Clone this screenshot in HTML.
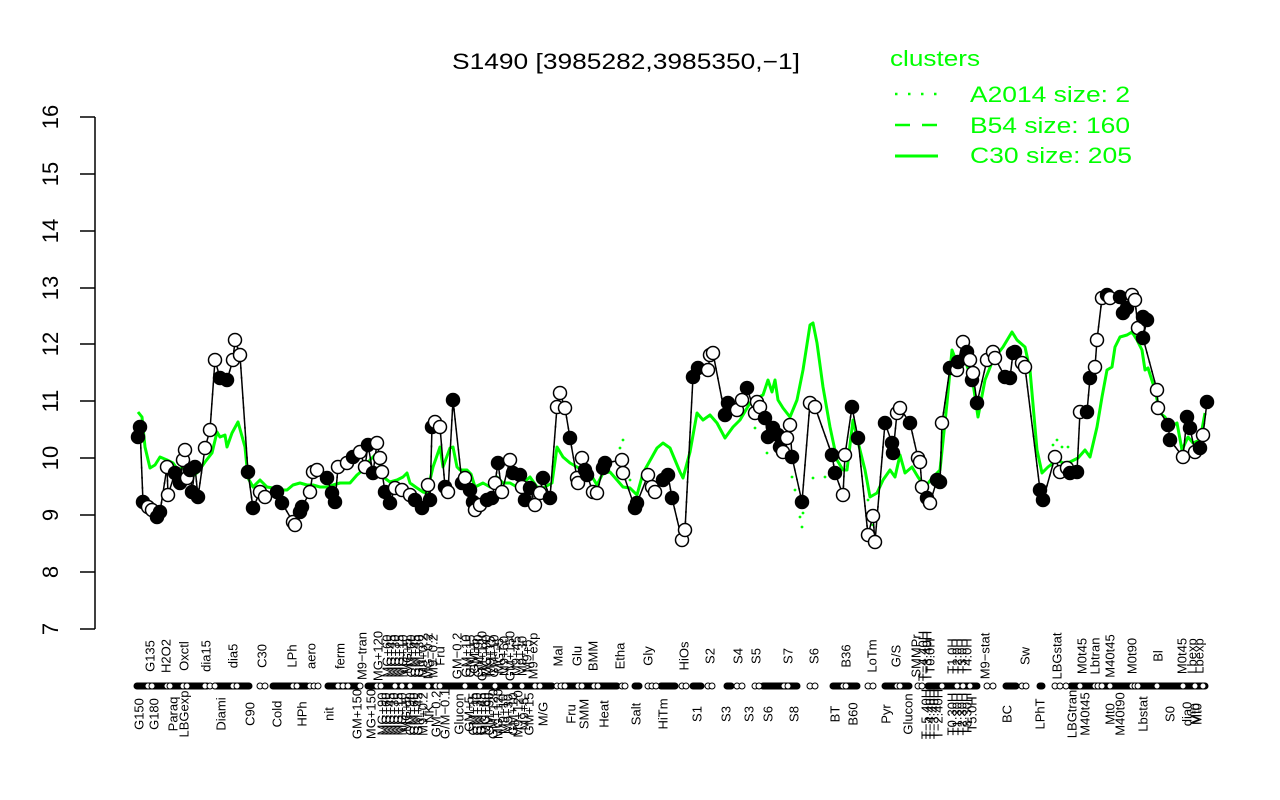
<!DOCTYPE html>
<html><head><meta charset="utf-8"><style>
html,body{margin:0;padding:0;background:#fff;}
svg{display:block;}
text{font-family:"Liberation Sans",Arial,sans-serif;}
</style></head><body>
<svg width="1280" height="800" viewBox="0 0 1280 800" xmlns="http://www.w3.org/2000/svg">
<rect width="1280" height="800" fill="#fff"/>
<text x="452" y="69" font-size="22" textLength="348" lengthAdjust="spacingAndGlyphs" fill="#000">S1490 [3985282,3985350,−1]</text>
<text x="890" y="66" font-size="22" textLength="90" lengthAdjust="spacingAndGlyphs" fill="#00ff00">clusters</text>
<line x1="895" y1="94" x2="940" y2="94" stroke="#00ff00" stroke-width="2.5" stroke-dasharray="2.5 10.5"/>
<text x="970" y="102" font-size="22" textLength="160" lengthAdjust="spacingAndGlyphs" fill="#00ff00">A2014 size: 2</text>
<line x1="895" y1="125" x2="938" y2="125" stroke="#00ff00" stroke-width="2.5" stroke-dasharray="15 12"/>
<text x="970" y="133" font-size="22" textLength="160" lengthAdjust="spacingAndGlyphs" fill="#00ff00">B54 size: 160</text>
<line x1="895" y1="156" x2="938" y2="156" stroke="#00ff00" stroke-width="3"/>
<text x="970" y="163" font-size="22" textLength="162" lengthAdjust="spacingAndGlyphs" fill="#00ff00">C30 size: 205</text>
<g stroke="#000" stroke-width="1.5" fill="none">
<line x1="95" y1="117" x2="95" y2="629"/>
<line x1="80" y1="117" x2="95" y2="117"/><line x1="80" y1="174" x2="95" y2="174"/><line x1="80" y1="231" x2="95" y2="231"/><line x1="80" y1="288" x2="95" y2="288"/><line x1="80" y1="344" x2="95" y2="344"/><line x1="80" y1="401" x2="95" y2="401"/><line x1="80" y1="458" x2="95" y2="458"/><line x1="80" y1="515" x2="95" y2="515"/><line x1="80" y1="572" x2="95" y2="572"/><line x1="80" y1="629" x2="95" y2="629"/>
</g>
<g font-size="22" fill="#000" text-anchor="middle">
<text transform="translate(58,117) rotate(-90)">16</text>
<text transform="translate(58,174) rotate(-90)">15</text>
<text transform="translate(58,231) rotate(-90)">14</text>
<text transform="translate(58,288) rotate(-90)">13</text>
<text transform="translate(58,344) rotate(-90)">12</text>
<text transform="translate(58,401) rotate(-90)">11</text>
<text transform="translate(58,458) rotate(-90)">10</text>
<text transform="translate(58,515) rotate(-90)">9</text>
<text transform="translate(58,572) rotate(-90)">8</text>
<text transform="translate(58,629) rotate(-90)">7</text>
</g>
<!-- A2014 dotted fragments -->
<g fill="#00ff00">
<circle cx="620" cy="448" r="1.4"/><circle cx="623" cy="440" r="1.4"/><circle cx="630" cy="480" r="1.4"/><circle cx="755" cy="428" r="1.4"/><circle cx="767" cy="453" r="1.4"/><circle cx="792" cy="477" r="1.4"/><circle cx="795" cy="490" r="1.4"/><circle cx="800" cy="517" r="1.4"/><circle cx="803" cy="513" r="1.4"/><circle cx="802" cy="527" r="1.4"/><circle cx="813" cy="478" r="1.4"/><circle cx="825" cy="477" r="1.4"/><circle cx="868" cy="500" r="1.4"/><circle cx="870" cy="515" r="1.4"/><circle cx="873" cy="525" r="1.4"/><circle cx="1053" cy="445" r="1.4"/><circle cx="1057" cy="440" r="1.4"/><circle cx="1062" cy="447" r="1.4"/><circle cx="1068" cy="447" r="1.4"/>
</g>
<!-- C30 solid -->
<polyline fill="none" stroke="#00ff00" stroke-width="3" stroke-linejoin="round" points="138,412 142,417 145,447 150,468 155,465 160,457 167,460 173,463 178,470 183,467 187,475 192,477 198,472 205,462 212,453 217,432 220,437 225,435 227,447 232,433 238,422 245,447 248,478 253,487 260,480 267,487 273,488 280,490 287,490 293,485 300,483 307,485 313,485 320,487 327,487 333,485 340,483 350,483 357,475 363,470 370,460 377,453 383,477 390,482 397,480 403,477 407,473 410,483 417,488 423,492 427,493 433,467 440,447 443,467 450,448 453,447 457,467 460,470 467,470 471,474 475,487 483,483 490,487 497,477 503,483 510,483 517,487 523,483 530,477 537,487 543,488 552,483 557,447 563,457 570,463 577,467 583,470 590,473 597,485 603,473 610,472 617,480 623,487 630,488 637,495 643,473 652,457 657,448 663,443 670,448 680,472 683,478 690,452 697,413 703,420 710,415 717,423 725,438 733,427 740,420 750,403 757,398 763,395 768,380 772,392 775,380 778,400 783,408 790,417 797,400 803,370 810,325 813,323 817,343 823,387 830,427 837,460 843,470 847,470 853,420 860,450 865,470 870,497 877,493 883,480 890,470 895,477 900,455 905,473 912,467 918,477 925,487 933,477 940,470 947,403 952,350 957,363 965,360 973,383 978,417 985,380 993,360 1003,347 1012,332 1017,340 1025,347 1030,370 1037,450 1042,473 1048,467 1057,460 1063,463 1070,462 1078,458 1085,450 1090,457 1097,427 1102,397 1107,370 1112,367 1115,347 1120,337 1127,335 1132,332 1137,340 1142,350 1145,370 1148,368 1155,390 1160,413 1165,417 1170,427 1177,423 1182,450 1188,437 1193,443 1200,440 1205,413"/>
<!-- gene line -->
<polyline id="gl" fill="none" stroke="#000" stroke-width="1.5" points="138,437 140,427 143,502 148,507 152,510 157,517 160,512 167,467 168,495 175,473 180,483 183,460 185,450 187,478 190,470 192,492 195,467 198,497 205,448 210,430 215,360 220,378 227,380 233,360 235,340 240,355 248,472 253,508 260,492 265,497 277,492 282,503 293,522 295,525 300,512 302,507 310,492 313,472 317,470 327,478 332,493 335,502 338,467 347,463 353,457 353,458 360,452 365,467 368,445 373,473 377,443 380,458 382,472 385,492 390,503 395,488 402,490 410,495 415,500 422,508 428,485 430,500 432,427 435,422 440,427 445,487 448,492 453,400 462,483 465,478 470,490 473,502 475,510 480,505 487,500 492,498 495,483 498,463 502,492 510,460 513,473 520,475 522,487 525,500 530,488 535,505 540,493 543,478 550,498 557,407 560,393 565,408 570,438 577,478 578,483 582,458 585,470 587,475 593,492 597,493 603,468 605,463 622,460 623,473 635,508 637,503 648,475 652,487 655,492 663,480 668,475 672,498 682,540 685,530 693,377 698,368 708,370 710,355 713,353 725,415 728,403 737,410 742,400 747,388 755,413 757,402 760,407 765,418 768,437 773,428 778,435 780,447 783,452 787,438 790,425 792,457 802,502 810,403 815,407 832,455 835,473 843,495 845,455 852,407 858,438 868,535 873,516 875,542 885,423 892,443 893,453 897,413 900,408 910,423 918,458 920,462 922,487 927,498 930,503 937,480 940,482 942,423 950,368 957,370 958,362 963,342 967,352 970,360 972,380 973,373 977,403 987,360 993,352 995,358 1005,377 1010,378 1013,353 1015,352 1022,363 1025,367 1040,490 1043,500 1055,457 1060,472 1067,468 1070,473 1077,472 1080,412 1087,412 1090,378 1095,367 1097,340 1102,298 1107,295 1110,298 1120,297 1123,313 1127,308 1132,295 1135,300 1138,328 1143,317 1147,320 1143,338 1157,390 1158,408 1168,425 1170,440 1183,457 1187,417 1190,428 1195,452 1200,448 1203,435 1207,402"/>
<use href="#gl" stroke="#00ff00" stroke-width="2.5" stroke-dasharray="2 8"/>
<!-- markers -->
<g stroke="#000" stroke-width="1.5">
<circle cx="138" cy="437" r="6.5" fill="#000"/><circle cx="140" cy="427" r="6.5" fill="#000"/><circle cx="143" cy="502" r="6.5" fill="#000"/><circle cx="148" cy="507" r="6.5" fill="#fff"/><circle cx="152" cy="510" r="6.5" fill="#fff"/><circle cx="157" cy="517" r="6.5" fill="#000"/><circle cx="160" cy="512" r="6.5" fill="#000"/><circle cx="167" cy="467" r="6.5" fill="#fff"/><circle cx="168" cy="495" r="6.5" fill="#fff"/><circle cx="175" cy="473" r="6.5" fill="#000"/><circle cx="180" cy="483" r="6.5" fill="#000"/><circle cx="183" cy="460" r="6.5" fill="#fff"/><circle cx="185" cy="450" r="6.5" fill="#fff"/><circle cx="187" cy="478" r="6.5" fill="#fff"/><circle cx="190" cy="470" r="6.5" fill="#000"/><circle cx="192" cy="492" r="6.5" fill="#000"/><circle cx="195" cy="467" r="6.5" fill="#000"/><circle cx="198" cy="497" r="6.5" fill="#000"/><circle cx="205" cy="448" r="6.5" fill="#fff"/><circle cx="210" cy="430" r="6.5" fill="#fff"/><circle cx="215" cy="360" r="6.5" fill="#fff"/><circle cx="220" cy="378" r="6.5" fill="#000"/><circle cx="227" cy="380" r="6.5" fill="#000"/><circle cx="233" cy="360" r="6.5" fill="#fff"/><circle cx="235" cy="340" r="6.5" fill="#fff"/><circle cx="240" cy="355" r="6.5" fill="#fff"/><circle cx="248" cy="472" r="6.5" fill="#000"/><circle cx="253" cy="508" r="6.5" fill="#000"/><circle cx="260" cy="492" r="6.5" fill="#fff"/><circle cx="265" cy="497" r="6.5" fill="#fff"/><circle cx="277" cy="492" r="6.5" fill="#000"/><circle cx="282" cy="503" r="6.5" fill="#000"/><circle cx="293" cy="522" r="6.5" fill="#fff"/><circle cx="295" cy="525" r="6.5" fill="#fff"/><circle cx="300" cy="512" r="6.5" fill="#000"/><circle cx="302" cy="507" r="6.5" fill="#000"/><circle cx="310" cy="492" r="6.5" fill="#fff"/><circle cx="313" cy="472" r="6.5" fill="#fff"/><circle cx="317" cy="470" r="6.5" fill="#fff"/><circle cx="327" cy="478" r="6.5" fill="#000"/><circle cx="332" cy="493" r="6.5" fill="#000"/><circle cx="335" cy="502" r="6.5" fill="#000"/><circle cx="338" cy="467" r="6.5" fill="#fff"/><circle cx="347" cy="463" r="6.5" fill="#fff"/><circle cx="353" cy="457" r="6.5" fill="#000"/><circle cx="360" cy="452" r="6.5" fill="#fff"/><circle cx="365" cy="467" r="6.5" fill="#fff"/><circle cx="368" cy="445" r="6.5" fill="#000"/><circle cx="373" cy="473" r="6.5" fill="#000"/><circle cx="377" cy="443" r="6.5" fill="#fff"/><circle cx="380" cy="458" r="6.5" fill="#fff"/><circle cx="382" cy="472" r="6.5" fill="#fff"/><circle cx="385" cy="492" r="6.5" fill="#000"/><circle cx="390" cy="503" r="6.5" fill="#000"/><circle cx="395" cy="488" r="6.5" fill="#fff"/><circle cx="402" cy="490" r="6.5" fill="#fff"/><circle cx="410" cy="495" r="6.5" fill="#fff"/><circle cx="415" cy="500" r="6.5" fill="#000"/><circle cx="422" cy="508" r="6.5" fill="#000"/><circle cx="428" cy="485" r="6.5" fill="#fff"/><circle cx="430" cy="500" r="6.5" fill="#000"/><circle cx="432" cy="427" r="6.5" fill="#000"/><circle cx="435" cy="422" r="6.5" fill="#fff"/><circle cx="440" cy="427" r="6.5" fill="#fff"/><circle cx="445" cy="487" r="6.5" fill="#000"/><circle cx="448" cy="492" r="6.5" fill="#fff"/><circle cx="453" cy="400" r="6.5" fill="#000"/><circle cx="462" cy="483" r="6.5" fill="#000"/><circle cx="465" cy="478" r="6.5" fill="#fff"/><circle cx="470" cy="490" r="6.5" fill="#000"/><circle cx="473" cy="502" r="6.5" fill="#000"/><circle cx="475" cy="510" r="6.5" fill="#fff"/><circle cx="480" cy="505" r="6.5" fill="#fff"/><circle cx="487" cy="500" r="6.5" fill="#000"/><circle cx="492" cy="498" r="6.5" fill="#000"/><circle cx="495" cy="483" r="6.5" fill="#fff"/><circle cx="498" cy="463" r="6.5" fill="#000"/><circle cx="502" cy="492" r="6.5" fill="#fff"/><circle cx="510" cy="460" r="6.5" fill="#fff"/><circle cx="513" cy="473" r="6.5" fill="#000"/><circle cx="520" cy="475" r="6.5" fill="#000"/><circle cx="522" cy="487" r="6.5" fill="#fff"/><circle cx="525" cy="500" r="6.5" fill="#000"/><circle cx="530" cy="488" r="6.5" fill="#000"/><circle cx="535" cy="505" r="6.5" fill="#fff"/><circle cx="540" cy="493" r="6.5" fill="#fff"/><circle cx="543" cy="478" r="6.5" fill="#000"/><circle cx="550" cy="498" r="6.5" fill="#000"/><circle cx="557" cy="407" r="6.5" fill="#fff"/><circle cx="560" cy="393" r="6.5" fill="#fff"/><circle cx="565" cy="408" r="6.5" fill="#fff"/><circle cx="570" cy="438" r="6.5" fill="#000"/><circle cx="577" cy="478" r="6.5" fill="#fff"/><circle cx="578" cy="483" r="6.5" fill="#fff"/><circle cx="582" cy="458" r="6.5" fill="#fff"/><circle cx="585" cy="470" r="6.5" fill="#000"/><circle cx="587" cy="475" r="6.5" fill="#000"/><circle cx="593" cy="492" r="6.5" fill="#fff"/><circle cx="597" cy="493" r="6.5" fill="#fff"/><circle cx="603" cy="468" r="6.5" fill="#000"/><circle cx="605" cy="463" r="6.5" fill="#000"/><circle cx="622" cy="460" r="6.5" fill="#fff"/><circle cx="623" cy="473" r="6.5" fill="#fff"/><circle cx="635" cy="508" r="6.5" fill="#000"/><circle cx="637" cy="503" r="6.5" fill="#000"/><circle cx="648" cy="475" r="6.5" fill="#fff"/><circle cx="652" cy="487" r="6.5" fill="#fff"/><circle cx="655" cy="492" r="6.5" fill="#fff"/><circle cx="663" cy="480" r="6.5" fill="#000"/><circle cx="668" cy="475" r="6.5" fill="#000"/><circle cx="672" cy="498" r="6.5" fill="#000"/><circle cx="682" cy="540" r="6.5" fill="#fff"/><circle cx="685" cy="530" r="6.5" fill="#fff"/><circle cx="693" cy="377" r="6.5" fill="#000"/><circle cx="698" cy="368" r="6.5" fill="#000"/><circle cx="708" cy="370" r="6.5" fill="#fff"/><circle cx="710" cy="355" r="6.5" fill="#fff"/><circle cx="713" cy="353" r="6.5" fill="#fff"/><circle cx="725" cy="415" r="6.5" fill="#000"/><circle cx="728" cy="403" r="6.5" fill="#000"/><circle cx="737" cy="410" r="6.5" fill="#fff"/><circle cx="742" cy="400" r="6.5" fill="#fff"/><circle cx="747" cy="388" r="6.5" fill="#000"/><circle cx="755" cy="413" r="6.5" fill="#fff"/><circle cx="757" cy="402" r="6.5" fill="#fff"/><circle cx="760" cy="407" r="6.5" fill="#fff"/><circle cx="765" cy="418" r="6.5" fill="#000"/><circle cx="768" cy="437" r="6.5" fill="#000"/><circle cx="773" cy="428" r="6.5" fill="#000"/><circle cx="778" cy="435" r="6.5" fill="#000"/><circle cx="780" cy="447" r="6.5" fill="#000"/><circle cx="783" cy="452" r="6.5" fill="#fff"/><circle cx="787" cy="438" r="6.5" fill="#fff"/><circle cx="790" cy="425" r="6.5" fill="#fff"/><circle cx="792" cy="457" r="6.5" fill="#000"/><circle cx="802" cy="502" r="6.5" fill="#000"/><circle cx="810" cy="403" r="6.5" fill="#fff"/><circle cx="815" cy="407" r="6.5" fill="#fff"/><circle cx="832" cy="455" r="6.5" fill="#000"/><circle cx="835" cy="473" r="6.5" fill="#000"/><circle cx="843" cy="495" r="6.5" fill="#fff"/><circle cx="845" cy="455" r="6.5" fill="#fff"/><circle cx="852" cy="407" r="6.5" fill="#000"/><circle cx="858" cy="438" r="6.5" fill="#000"/><circle cx="868" cy="535" r="6.5" fill="#fff"/><circle cx="873" cy="516" r="6.5" fill="#fff"/><circle cx="875" cy="542" r="6.5" fill="#fff"/><circle cx="885" cy="423" r="6.5" fill="#000"/><circle cx="892" cy="443" r="6.5" fill="#000"/><circle cx="893" cy="453" r="6.5" fill="#000"/><circle cx="897" cy="413" r="6.5" fill="#fff"/><circle cx="900" cy="408" r="6.5" fill="#fff"/><circle cx="910" cy="423" r="6.5" fill="#000"/><circle cx="918" cy="458" r="6.5" fill="#fff"/><circle cx="920" cy="462" r="6.5" fill="#fff"/><circle cx="922" cy="487" r="6.5" fill="#fff"/><circle cx="927" cy="498" r="6.5" fill="#000"/><circle cx="930" cy="503" r="6.5" fill="#fff"/><circle cx="937" cy="480" r="6.5" fill="#000"/><circle cx="940" cy="482" r="6.5" fill="#000"/><circle cx="942" cy="423" r="6.5" fill="#fff"/><circle cx="950" cy="368" r="6.5" fill="#000"/><circle cx="957" cy="370" r="6.5" fill="#fff"/><circle cx="958" cy="362" r="6.5" fill="#000"/><circle cx="963" cy="342" r="6.5" fill="#fff"/><circle cx="967" cy="352" r="6.5" fill="#000"/><circle cx="970" cy="360" r="6.5" fill="#fff"/><circle cx="972" cy="380" r="6.5" fill="#000"/><circle cx="973" cy="373" r="6.5" fill="#fff"/><circle cx="977" cy="403" r="6.5" fill="#000"/><circle cx="987" cy="360" r="6.5" fill="#fff"/><circle cx="993" cy="352" r="6.5" fill="#fff"/><circle cx="995" cy="358" r="6.5" fill="#fff"/><circle cx="1005" cy="377" r="6.5" fill="#000"/><circle cx="1010" cy="378" r="6.5" fill="#000"/><circle cx="1013" cy="353" r="6.5" fill="#000"/><circle cx="1015" cy="352" r="6.5" fill="#000"/><circle cx="1022" cy="363" r="6.5" fill="#fff"/><circle cx="1025" cy="367" r="6.5" fill="#fff"/><circle cx="1040" cy="490" r="6.5" fill="#000"/><circle cx="1043" cy="500" r="6.5" fill="#000"/><circle cx="1055" cy="457" r="6.5" fill="#fff"/><circle cx="1060" cy="472" r="6.5" fill="#fff"/><circle cx="1067" cy="468" r="6.5" fill="#fff"/><circle cx="1070" cy="473" r="6.5" fill="#000"/><circle cx="1077" cy="472" r="6.5" fill="#000"/><circle cx="1080" cy="412" r="6.5" fill="#fff"/><circle cx="1087" cy="412" r="6.5" fill="#000"/><circle cx="1090" cy="378" r="6.5" fill="#000"/><circle cx="1095" cy="367" r="6.5" fill="#fff"/><circle cx="1097" cy="340" r="6.5" fill="#fff"/><circle cx="1102" cy="298" r="6.5" fill="#fff"/><circle cx="1107" cy="295" r="6.5" fill="#000"/><circle cx="1110" cy="298" r="6.5" fill="#fff"/><circle cx="1120" cy="297" r="6.5" fill="#000"/><circle cx="1123" cy="313" r="6.5" fill="#000"/><circle cx="1127" cy="308" r="6.5" fill="#000"/><circle cx="1132" cy="295" r="6.5" fill="#fff"/><circle cx="1135" cy="300" r="6.5" fill="#fff"/><circle cx="1138" cy="328" r="6.5" fill="#fff"/><circle cx="1143" cy="317" r="6.5" fill="#000"/><circle cx="1147" cy="320" r="6.5" fill="#000"/><circle cx="1143" cy="338" r="6.5" fill="#000"/><circle cx="1157" cy="390" r="6.5" fill="#fff"/><circle cx="1158" cy="408" r="6.5" fill="#fff"/><circle cx="1168" cy="425" r="6.5" fill="#000"/><circle cx="1170" cy="440" r="6.5" fill="#000"/><circle cx="1183" cy="457" r="6.5" fill="#fff"/><circle cx="1187" cy="417" r="6.5" fill="#000"/><circle cx="1190" cy="428" r="6.5" fill="#000"/><circle cx="1195" cy="452" r="6.5" fill="#fff"/><circle cx="1200" cy="448" r="6.5" fill="#000"/><circle cx="1203" cy="435" r="6.5" fill="#fff"/><circle cx="1207" cy="402" r="6.5" fill="#000"/>
</g>
<!-- dot row -->
<g stroke="#000" stroke-width="1">
<rect x="134" y="683" width="76" height="6" rx="3" fill="#000"/>
<rect x="212" y="683" width="40" height="6" rx="3" fill="#000"/>
<rect x="270" y="683" width="40" height="6" rx="3" fill="#000"/>
<rect x="325" y="683" width="36" height="6" rx="3" fill="#000"/>
<rect x="365" y="683" width="190" height="6" rx="3" fill="#000"/>
<rect x="560" y="683" width="60" height="6" rx="3" fill="#000"/>
<rect x="632" y="683" width="10" height="6" rx="3" fill="#000"/>
<rect x="658" y="683" width="20" height="6" rx="3" fill="#000"/>
<rect x="690" y="683" width="14" height="6" rx="3" fill="#000"/>
<rect x="724" y="683" width="10" height="6" rx="3" fill="#000"/>
<rect x="760" y="683" width="40" height="6" rx="3" fill="#000"/>
<rect x="830" y="683" width="30" height="6" rx="3" fill="#000"/>
<rect x="882" y="683" width="30" height="6" rx="3" fill="#000"/>
<rect x="925" y="683" width="55" height="6" rx="3" fill="#000"/>
<rect x="1003" y="683" width="16" height="6" rx="3" fill="#000"/>
<rect x="1037" y="683" width="8" height="6" rx="3" fill="#000"/>
<rect x="1068" y="683" width="140" height="6" rx="3" fill="#000"/>
</g>
<g stroke="#000" stroke-width="1" fill="#fff">
<circle cx="148" cy="686" r="3"/><circle cx="152" cy="686" r="3"/><circle cx="167" cy="686" r="3"/><circle cx="170" cy="686" r="3"/><circle cx="183" cy="686" r="3"/><circle cx="187" cy="686" r="3"/><circle cx="205" cy="686" r="3"/><circle cx="210" cy="686" r="3"/><circle cx="215" cy="686" r="3"/><circle cx="233" cy="686" r="3"/><circle cx="237" cy="686" r="3"/><circle cx="260" cy="686" r="3"/><circle cx="265" cy="686" r="3"/><circle cx="293" cy="686" r="3"/><circle cx="297" cy="686" r="3"/><circle cx="310" cy="686" r="3"/><circle cx="314" cy="686" r="3"/><circle cx="318" cy="686" r="3"/><circle cx="338" cy="686" r="3"/><circle cx="343" cy="686" r="3"/><circle cx="348" cy="686" r="3"/><circle cx="360" cy="686" r="3"/><circle cx="377" cy="686" r="3"/><circle cx="381" cy="686" r="3"/><circle cx="395" cy="686" r="3"/><circle cx="402" cy="686" r="3"/><circle cx="410" cy="686" r="3"/><circle cx="428" cy="686" r="3"/><circle cx="436" cy="686" r="3"/><circle cx="440" cy="686" r="3"/><circle cx="465" cy="686" r="3"/><circle cx="480" cy="686" r="3"/><circle cx="495" cy="686" r="3"/><circle cx="510" cy="686" r="3"/><circle cx="522" cy="686" r="3"/><circle cx="535" cy="686" r="3"/><circle cx="540" cy="686" r="3"/><circle cx="557" cy="686" r="3"/><circle cx="561" cy="686" r="3"/><circle cx="565" cy="686" r="3"/><circle cx="578" cy="686" r="3"/><circle cx="582" cy="686" r="3"/><circle cx="594" cy="686" r="3"/><circle cx="598" cy="686" r="3"/><circle cx="622" cy="686" r="3"/><circle cx="625" cy="686" r="3"/><circle cx="648" cy="686" r="3"/><circle cx="652" cy="686" r="3"/><circle cx="656" cy="686" r="3"/><circle cx="682" cy="686" r="3"/><circle cx="686" cy="686" r="3"/><circle cx="708" cy="686" r="3"/><circle cx="712" cy="686" r="3"/><circle cx="737" cy="686" r="3"/><circle cx="742" cy="686" r="3"/><circle cx="755" cy="686" r="3"/><circle cx="759" cy="686" r="3"/><circle cx="784" cy="686" r="3"/><circle cx="788" cy="686" r="3"/><circle cx="810" cy="686" r="3"/><circle cx="815" cy="686" r="3"/><circle cx="843" cy="686" r="3"/><circle cx="846" cy="686" r="3"/><circle cx="868" cy="686" r="3"/><circle cx="873" cy="686" r="3"/><circle cx="897" cy="686" r="3"/><circle cx="900" cy="686" r="3"/><circle cx="918" cy="686" r="3"/><circle cx="922" cy="686" r="3"/><circle cx="942" cy="686" r="3"/><circle cx="957" cy="686" r="3"/><circle cx="963" cy="686" r="3"/><circle cx="970" cy="686" r="3"/><circle cx="987" cy="686" r="3"/><circle cx="993" cy="686" r="3"/><circle cx="1022" cy="686" r="3"/><circle cx="1026" cy="686" r="3"/><circle cx="1055" cy="686" r="3"/><circle cx="1060" cy="686" r="3"/><circle cx="1066" cy="686" r="3"/><circle cx="1080" cy="686" r="3"/><circle cx="1095" cy="686" r="3"/><circle cx="1098" cy="686" r="3"/><circle cx="1102" cy="686" r="3"/><circle cx="1110" cy="686" r="3"/><circle cx="1132" cy="686" r="3"/><circle cx="1135" cy="686" r="3"/><circle cx="1138" cy="686" r="3"/><circle cx="1157" cy="686" r="3"/><circle cx="1183" cy="686" r="3"/><circle cx="1195" cy="686" r="3"/><circle cx="1203" cy="686" r="3"/>
</g>
<!-- top labels -->
<g font-size="13" fill="#000" text-anchor="middle">
<text transform="translate(154.5,656) rotate(-90)">G135</text>
<text transform="translate(170.5,656) rotate(-90)">H2O2</text>
<text transform="translate(188.5,656) rotate(-90)">Oxctl</text>
<text transform="translate(210.5,656) rotate(-90)">dia15</text>
<text transform="translate(237.5,656) rotate(-90)">dia5</text>
<text transform="translate(266.5,656) rotate(-90)">C30</text>
<text transform="translate(296.5,656) rotate(-90)">LPh</text>
<text transform="translate(315.5,656) rotate(-90)">aero</text>
<text transform="translate(344.5,656) rotate(-90)">ferm</text>
<text transform="translate(366.5,656) rotate(-90)">M9−tran</text>
<text transform="translate(382.5,656) rotate(-90)">MG+120</text>
<text transform="translate(391.5,656) rotate(-90)">MG+60</text>
<text transform="translate(395.5,656) rotate(-90)">MG+45</text>
<text transform="translate(399.5,656) rotate(-90)">MG+30</text>
<text transform="translate(403.5,656) rotate(-90)">MG+15</text>
<text transform="translate(407.5,656) rotate(-90)">MG+10</text>
<text transform="translate(411.5,656) rotate(-90)">MG+5</text>
<text transform="translate(415.5,656) rotate(-90)">GM+60</text>
<text transform="translate(419.5,656) rotate(-90)">GM+45</text>
<text transform="translate(423.5,656) rotate(-90)">GM+30</text>
<text transform="translate(427.5,656) rotate(-90)">M9+0.2</text>
<text transform="translate(432.5,656) rotate(-90)">MG−0.2</text>
<text transform="translate(437.5,656) rotate(-90)">M9−0.2</text>
<text transform="translate(444.5,656) rotate(-90)">Fru</text>
<text transform="translate(461.5,656) rotate(-90)">GM−0.2</text>
<text transform="translate(470.5,656) rotate(-90)">GM+10</text>
<text transform="translate(474.5,656) rotate(-90)">GM+15</text>
<text transform="translate(478.5,656) rotate(-90)">GM+5</text>
<text transform="translate(482.5,656) rotate(-90)">GM+90</text>
<text transform="translate(486.5,656) rotate(-90)">GM+120</text>
<text transform="translate(490.5,656) rotate(-90)">MG+90</text>
<text transform="translate(494.5,656) rotate(-90)">M9+15</text>
<text transform="translate(498.5,656) rotate(-90)">GM+10</text>
<text transform="translate(503.5,656) rotate(-90)">MG+5</text>
<text transform="translate(508.5,656) rotate(-90)">M9+60</text>
<text transform="translate(514.5,656) rotate(-90)">GM+150</text>
<text transform="translate(520.5,656) rotate(-90)">M9+45</text>
<text transform="translate(526.5,656) rotate(-90)">M9+30</text>
<text transform="translate(531.5,656) rotate(-90)">M9+5</text>
<text transform="translate(537.5,656) rotate(-90)">M9−exp</text>
<text transform="translate(562.5,656) rotate(-90)">Mal</text>
<text transform="translate(581.5,656) rotate(-90)">Glu</text>
<text transform="translate(597.5,656) rotate(-90)">BMM</text>
<text transform="translate(624.5,656) rotate(-90)">Etha</text>
<text transform="translate(652.5,656) rotate(-90)">Gly</text>
<text transform="translate(688.5,656) rotate(-90)">HiOs</text>
<text transform="translate(714.5,656) rotate(-90)">S2</text>
<text transform="translate(742.5,656) rotate(-90)">S4</text>
<text transform="translate(760.5,656) rotate(-90)">S5</text>
<text transform="translate(792.5,656) rotate(-90)">S7</text>
<text transform="translate(818.5,656) rotate(-90)">S6</text>
<text transform="translate(850.5,656) rotate(-90)">B36</text>
<text transform="translate(876.5,656) rotate(-90)">LoTm</text>
<text transform="translate(900.5,656) rotate(-90)">G/S</text>
<text transform="translate(920.5,656) rotate(-90)">SMMPr</text>
<text transform="translate(927.5,656) rotate(-90)">T−4.40H</text>
<text transform="translate(931.5,656) rotate(-90)">T−3.40H</text>
<text transform="translate(934.5,656) rotate(-90)">T0.0H</text>
<text transform="translate(956.5,656) rotate(-90)">T1.0H</text>
<text transform="translate(961.5,656) rotate(-90)">T2.0H</text>
<text transform="translate(966.5,656) rotate(-90)">T3.0H</text>
<text transform="translate(971.5,656) rotate(-90)">T4.0H</text>
<text transform="translate(989.5,656) rotate(-90)">M9−stat</text>
<text transform="translate(1029.5,656) rotate(-90)">Sw</text>
<text transform="translate(1061.5,656) rotate(-90)">LBGstat</text>
<text transform="translate(1086.5,656) rotate(-90)">M0t45</text>
<text transform="translate(1099.5,656) rotate(-90)">Lbtran</text>
<text transform="translate(1114.5,656) rotate(-90)">M40t45</text>
<text transform="translate(1136.5,656) rotate(-90)">M0t90</text>
<text transform="translate(1162.5,656) rotate(-90)">Bl</text>
<text transform="translate(1186.5,656) rotate(-90)">M0t45</text>
<text transform="translate(1196.5,656) rotate(-90)">Lbexp</text>
<text transform="translate(1203.5,656) rotate(-90)">Lbexp</text>
</g>
<!-- bottom labels -->
<g font-size="13" fill="#000" text-anchor="middle">
<text transform="translate(143.5,714) rotate(-90)">G150</text>
<text transform="translate(158.5,714) rotate(-90)">G180</text>
<text transform="translate(177.5,714) rotate(-90)">Paraq</text>
<text transform="translate(188.5,714) rotate(-90)">LBGexp</text>
<text transform="translate(225.5,714) rotate(-90)">Diami</text>
<text transform="translate(254.5,714) rotate(-90)">C90</text>
<text transform="translate(281.5,714) rotate(-90)">Cold</text>
<text transform="translate(306.5,714) rotate(-90)">HPh</text>
<text transform="translate(333.5,714) rotate(-90)">nit</text>
<text transform="translate(361.5,714) rotate(-90)">GM+150</text>
<text transform="translate(375.5,714) rotate(-90)">MG+150</text>
<text transform="translate(386.5,714) rotate(-90)">MG+90</text>
<text transform="translate(390.5,714) rotate(-90)">MG+60</text>
<text transform="translate(394.5,714) rotate(-90)">MG+45</text>
<text transform="translate(398.5,714) rotate(-90)">MG+30</text>
<text transform="translate(402.5,714) rotate(-90)">MG+15</text>
<text transform="translate(406.5,714) rotate(-90)">MG+10</text>
<text transform="translate(410.5,714) rotate(-90)">MG+5</text>
<text transform="translate(414.5,714) rotate(-90)">GM+90</text>
<text transform="translate(418.5,714) rotate(-90)">GM+60</text>
<text transform="translate(422.5,714) rotate(-90)">GM+45</text>
<text transform="translate(427.5,714) rotate(-90)">M9+0.2</text>
<text transform="translate(433.5,714) rotate(-90)">NK</text>
<text transform="translate(440.5,714) rotate(-90)">GM−0.2</text>
<text transform="translate(449.5,714) rotate(-90)">G/M−0.1</text>
<text transform="translate(463.5,714) rotate(-90)">Glucon</text>
<text transform="translate(473.5,714) rotate(-90)">GM+5</text>
<text transform="translate(477.5,714) rotate(-90)">GM+15</text>
<text transform="translate(481.5,714) rotate(-90)">GM+30</text>
<text transform="translate(485.5,714) rotate(-90)">GM+45</text>
<text transform="translate(489.5,714) rotate(-90)">MG+60</text>
<text transform="translate(493.5,714) rotate(-90)">GM+90</text>
<text transform="translate(497.5,714) rotate(-90)">GM+120</text>
<text transform="translate(502.5,714) rotate(-90)">MG+120</text>
<text transform="translate(507.5,714) rotate(-90)">M9+10</text>
<text transform="translate(512.5,714) rotate(-90)">M9+30</text>
<text transform="translate(517.5,714) rotate(-90)">GM+10</text>
<text transform="translate(522.5,714) rotate(-90)">M9+120</text>
<text transform="translate(528.5,714) rotate(-90)">M9+5</text>
<text transform="translate(533.5,714) rotate(-90)">GM+15</text>
<text transform="translate(547.5,714) rotate(-90)">M/G</text>
<text transform="translate(575.5,714) rotate(-90)">Fru</text>
<text transform="translate(588.5,714) rotate(-90)">SMM</text>
<text transform="translate(608.5,714) rotate(-90)">Heat</text>
<text transform="translate(640.5,714) rotate(-90)">Salt</text>
<text transform="translate(667.5,714) rotate(-90)">HiTm</text>
<text transform="translate(701.5,714) rotate(-90)">S1</text>
<text transform="translate(730.5,714) rotate(-90)">S3</text>
<text transform="translate(753.5,714) rotate(-90)">S3</text>
<text transform="translate(772.5,714) rotate(-90)">S6</text>
<text transform="translate(798.5,714) rotate(-90)">S8</text>
<text transform="translate(839.5,714) rotate(-90)">BT</text>
<text transform="translate(857.5,714) rotate(-90)">B60</text>
<text transform="translate(890.5,714) rotate(-90)">Pyr</text>
<text transform="translate(912.5,714) rotate(-90)">Glucon</text>
<text transform="translate(930.5,714) rotate(-90)">T−5.40H</text>
<text transform="translate(934.5,714) rotate(-90)">T−4.40H</text>
<text transform="translate(938.5,714) rotate(-90)">T−3.40H</text>
<text transform="translate(942.5,714) rotate(-90)">T−2.40H</text>
<text transform="translate(956.5,714) rotate(-90)">T0.30H</text>
<text transform="translate(961.5,714) rotate(-90)">T1.30H</text>
<text transform="translate(966.5,714) rotate(-90)">T2.30H</text>
<text transform="translate(971.5,714) rotate(-90)">T3.30H</text>
<text transform="translate(976.5,714) rotate(-90)">T5.0H</text>
<text transform="translate(1011.5,714) rotate(-90)">BC</text>
<text transform="translate(1044.5,714) rotate(-90)">LPhT</text>
<text transform="translate(1076.5,714) rotate(-90)">LBGtran</text>
<text transform="translate(1089.5,714) rotate(-90)">M40t45</text>
<text transform="translate(1114.5,714) rotate(-90)">Mt0</text>
<text transform="translate(1124.5,714) rotate(-90)">M40t90</text>
<text transform="translate(1147.5,714) rotate(-90)">Lbstat</text>
<text transform="translate(1174.5,714) rotate(-90)">S0</text>
<text transform="translate(1191.5,714) rotate(-90)">dia0</text>
<text transform="translate(1199.5,714) rotate(-90)">Mt0</text>
<text transform="translate(1201.5,714) rotate(-90)">Mt0</text>
</g>
</svg>
</body></html>
